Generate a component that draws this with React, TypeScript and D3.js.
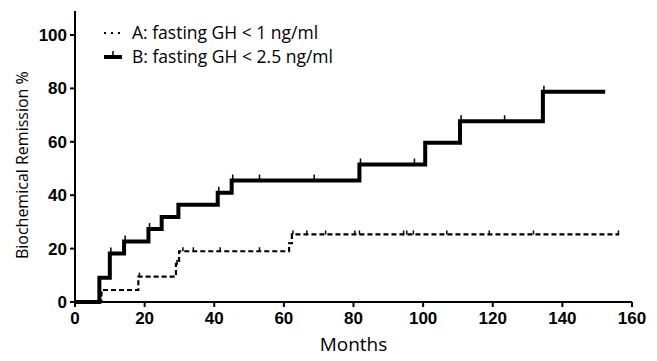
import React from 'react';
import * as d3 from 'd3';

// group B: fasting GH < 2.5 ng/ml
const monthsB = [0, 7, 10, 14.1, 21.1, 24.9, 29.7, 41, 45, 81.7, 100.6, 110.6, 134.4, 152.3];
const remB = [0, 9.1, 18.2, 22.7, 27.3, 31.8, 36.4, 40.9, 45.5, 51.5, 59.6, 67.7, 78.7, 78.7];
const censorB = [10.3, 14.4, 21.4, 41.3, 45.3, 53, 68.7, 82, 97.5, 110.9, 123.4, 134.7];

// group A: fasting GH < 1 ng/ml
const monthsA = [0, 7.6, 18.2, 29, 29.9, 61.5, 62.3, 156.3];
const remA = [0, 4.5, 9.5, 14.3, 19, 22, 25.3, 25.3];
const censorA = [18.5, 29.3, 31, 34, 41.7, 53, 62.6, 66.6, 72, 80.4, 81.7, 94.4, 95.3, 97.2, 106.8, 119, 131.7, 156.1];

const xTicks = [0, 20, 40, 60, 80, 100, 120, 140, 160];
const yTicks = [0, 20, 40, 60, 80, 100];

const W = 657;
const H = 361;
const margin = { left: 75, right: 25, top: 8, bottom: 59 };

function levelAt(ms: number[], vs: number[], t: number) {
  let v = vs[0];
  ms.forEach((m, i) => {
    if (m <= t) v = vs[i];
  });
  return v;
}

export default function App() {
  const x = d3.scaleLinear().domain([0, 160]).range([margin.left, W - margin.right]);
  const y = d3.scaleLinear().domain([0, 100]).range([H - margin.bottom, 35]);
  const y0 = y(0);

  const line = d3
    .line<[number, number]>()
    .x((d) => x(d[0]))
    .y((d) => y(d[1]))
    .curve(d3.curveStepAfter);

  const ptsA = monthsA.map((m, i) => [m, remA[i]] as [number, number]);
  const ptsB = monthsB.map((m, i) => [m, remB[i]] as [number, number]);

  const tickFont = { fontFamily: 'Liberation Sans, Arial, sans-serif', fontWeight: 700, fontSize: 17 };
  const labelFont = { fontFamily: '"Open Sans", sans-serif', fontSize: 17.5 };

  return (
    <div style={{ position: 'fixed', left: 0, top: 0 }}>
      <svg width={W} height={H} style={{ display: 'block', background: '#fff' }}>
        {/* series A dashed */}
        <path d={line(ptsA) || ''} fill="none" stroke="#000" strokeWidth={2.2} strokeDasharray="5,3" />
        {censorA.map((c, i) => {
          const v = levelAt(monthsA, remA, c);
          return <line key={'ca' + i} x1={x(c)} x2={x(c)} y1={y(v)} y2={y(v) - 4} stroke="#000" strokeWidth={1.5} />;
        })}
        {/* series B solid */}
        <path d={line(ptsB) || ''} fill="none" stroke="#000" strokeWidth={4} />
        {censorB.map((c, i) => {
          const v = levelAt(monthsB, remB, c);
          return <line key={'cb' + i} x1={x(c)} x2={x(c)} y1={y(v)} y2={y(v) - 6} stroke="#000" strokeWidth={1.5} />;
        })}

        {/* axes */}
        <line x1={x(0)} x2={x(0)} y1={y0} y2={11} stroke="#000" strokeWidth={2} />
        <line x1={x(0)} x2={x(160)} y1={y0} y2={y0} stroke="#000" strokeWidth={2} />
        {xTicks.map((t) => (
          <g key={'x' + t}>
            <line x1={x(t)} x2={x(t)} y1={y0} y2={y0 + 5} stroke="#000" strokeWidth={2} />
            <text x={x(t)} y={y0 + 22} textAnchor="middle" {...tickFont}>{t}</text>
          </g>
        ))}
        {yTicks.map((t) => (
          <g key={'y' + t}>
            <line x1={x(0) - 5} x2={x(0)} y1={y(t)} y2={y(t)} stroke="#000" strokeWidth={2} />
            <text x={x(0) - 8} y={y(t) + 6} textAnchor="end" {...tickFont}>{t}</text>
          </g>
        ))}

        {/* axis titles */}
        <text x={(x(0) + x(160)) / 2} y={351} textAnchor="middle" {...labelFont} fontSize={19}>Months</text>
        <text transform={`translate(28,${(y(0) + y(110)) / 2 + 10}) rotate(-90)`} textAnchor="middle" {...labelFont} fontSize={16}>
          Biochemical Remission %
        </text>

        {/* legend */}
        <line x1={104} x2={122} y1={33} y2={33} stroke="#000" strokeWidth={2} strokeDasharray="2,5" />
        <text x={132} y={34} dominantBaseline="middle" {...labelFont}>A: fasting GH &lt; 1 ng/ml</text>
        <line x1={104} x2={122} y1={57} y2={57} stroke="#000" strokeWidth={4} />
        <line x1={113} x2={113} y1={57} y2={51} stroke="#000" strokeWidth={1.5} />
        <text x={132} y={58} dominantBaseline="middle" {...labelFont}>B: fasting GH &lt; 2.5 ng/ml</text>
      </svg>
    </div>
  );
}
